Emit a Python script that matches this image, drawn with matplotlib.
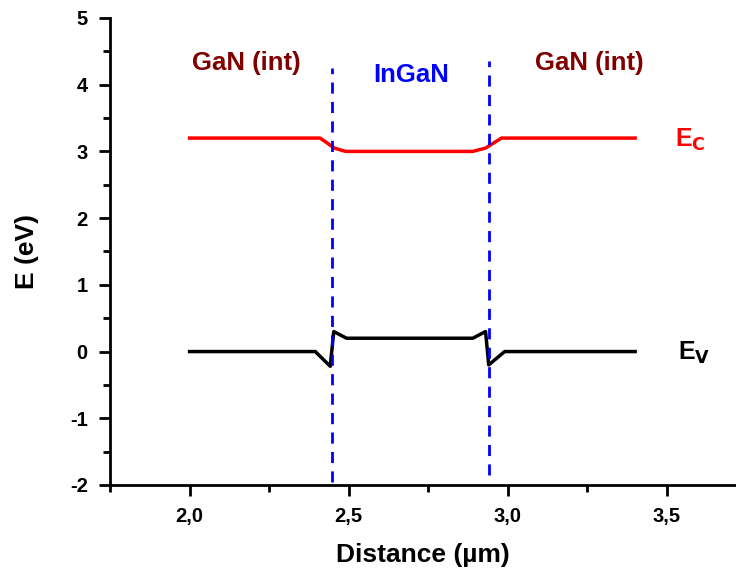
import matplotlib
matplotlib.use('Agg')
import matplotlib.pyplot as plt
from matplotlib.ticker import MultipleLocator, FuncFormatter

plt.rcParams['font.family'] = ['Liberation Sans', 'DejaVu Sans']
plt.rcParams['font.weight'] = 'bold'

# band edges
dist_c = [2.0, 2.41, 2.455, 2.49, 2.89, 2.93, 2.98, 3.4]
ec = [3.2, 3.2, 3.05, 3.0, 3.0, 3.05, 3.2, 3.2]

dist_v = [2.0, 2.395, 2.442, 2.453, 2.493, 2.89, 2.93, 2.94, 2.99, 3.4]
ev = [0.0, 0.0, -0.22, 0.3, 0.2, 0.2, 0.3, -0.2, 0.0, 0.0]

# interface positions
interfaces = [2.447, 2.942]
iface_bottom = [-1.95, -1.85]
iface_top = [4.25, 4.35]

fig = plt.figure(figsize=(7.36, 5.73), dpi=100)
ax = fig.add_axes([0.1495, 0.1536, 0.8505, 0.815])

ax.plot(dist_c, ec, color='red', lw=2.5)
ax.plot(dist_v, ev, color='black', lw=2.5)
for x, y0, y1 in zip(interfaces, iface_bottom, iface_top):
    ax.plot([x, x], [y0, y1], color='blue', lw=2, ls=(0, (4, 3)))

ax.text(2.179, 4.33, 'GaN (int)', color='#800000', fontsize=18.5, fontweight='bold', ha='center', va='center')
ax.text(2.695, 4.15, 'InGaN', color='blue', fontsize=18.5, fontweight='bold', ha='center', va='center')
ax.text(3.255, 4.33, 'GaN (int)', color='#800000', fontsize=18.5, fontweight='bold', ha='center', va='center')
ax.text(3.575, 3.18, r'E$_\mathbf{C}$', color='red', fontsize=18, fontweight='bold', ha='center', va='center')
ax.text(3.585, -0.02, r'E$_\mathbf{V}$', color='black', fontsize=18, fontweight='bold', ha='center', va='center')

ax.set_xlim(1.75, 3.717)
ax.set_ylim(-2, 5)
ax.spines['top'].set_visible(False)
ax.spines['right'].set_visible(False)
ax.spines['left'].set_linewidth(2)
ax.spines['bottom'].set_linewidth(2)

ax.xaxis.set_major_locator(MultipleLocator(0.5))
ax.xaxis.set_minor_locator(MultipleLocator(0.25))
ax.yaxis.set_major_locator(MultipleLocator(1))
ax.yaxis.set_minor_locator(MultipleLocator(0.5))
ax.xaxis.set_major_formatter(FuncFormatter(lambda v, p: ('%.1f' % v).replace('.', ',')))
ax.yaxis.set_major_formatter(FuncFormatter(lambda v, p: '%d' % v))
ax.tick_params(which='major', length=8, width=2, labelsize=14.5, pad=8)
ax.tick_params(which='minor', length=5, width=2)
ax.set_xticks([2.0, 2.5, 3.0, 3.5])

ax.set_xlabel('Distance (µm)', fontsize=19, fontweight='bold', labelpad=12)
ax.set_ylabel('E (eV)', fontsize=19, fontweight='bold', labelpad=22)

fig.savefig('out.png', dpi=100)
